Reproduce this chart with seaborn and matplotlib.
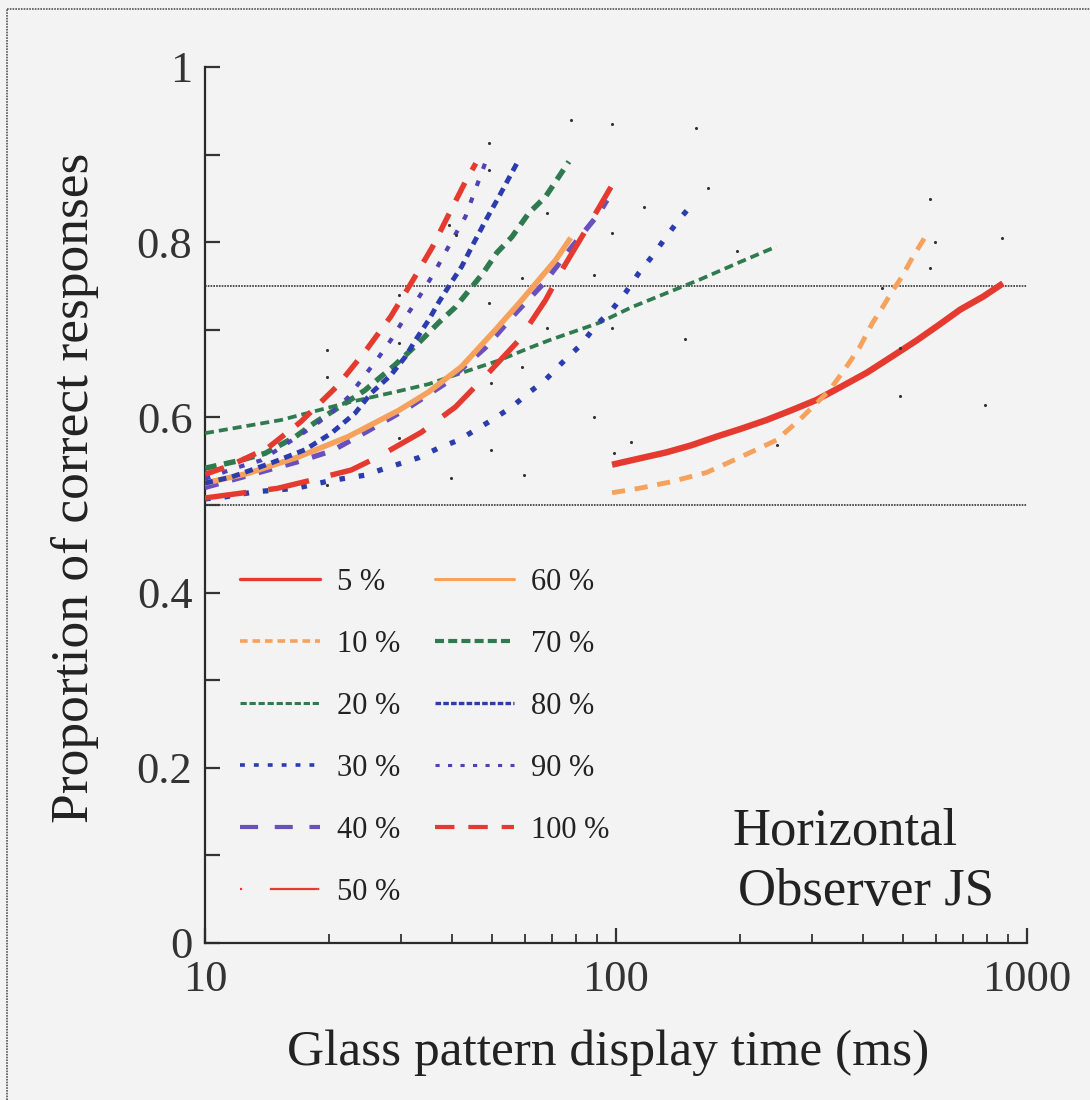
import numpy as np
import pandas as pd
import matplotlib
matplotlib.use("Agg")
import matplotlib.pyplot as plt
from matplotlib.lines import Line2D
from matplotlib.ticker import FixedLocator, FuncFormatter, NullFormatter, LogLocator
import seaborn as sns

# ---------------- data ----------------
coherence_labels = ["5 %", "10 %", "20 %", "30 %", "40 %", "50 %",
                    "60 %", "70 %", "80 %", "90 %", "100 %"]

t_5 = [97.8, 113.7, 132.4, 152.1, 175.5, 201.4, 232.4, 266.7, 307.6, 353, 407.5,
       467.5, 539.5, 608, 687.5, 783, 874]
p_5 = [0.546, 0.553, 0.560, 0.568, 0.578, 0.587, 0.597, 0.608, 0.620, 0.635, 0.651,
       0.669, 0.688, 0.705, 0.723, 0.738, 0.753]

t_10 = [97.8, 113.7, 134.6, 165.9, 199.5, 245.5, 279.3, 330.9, 363.9, 391.5,
        421, 445.6, 471.4, 495.5, 527, 563.6]
p_10 = [0.514, 0.519, 0.526, 0.537, 0.554, 0.574, 0.597, 0.631, 0.658, 0.680,
        0.708, 0.726, 0.745, 0.760, 0.783, 0.805]

t_20 = [10, 15.3, 22.3, 29.6, 35, 39.2, 51.9, 61.3, 68.7, 91, 109.4, 159.3, 199.5, 245.5]
p_20 = [0.582, 0.597, 0.617, 0.630, 0.638, 0.646, 0.665, 0.679, 0.688, 0.708, 0.726,
        0.757, 0.777, 0.795]

t_30 = [10, 11.1, 13.2, 16.6, 20.3, 24.5, 27.5, 33.1, 37, 41.4, 45.6, 49.9, 55.8,
        61.3, 67.4, 73.8, 82.2, 89.4, 97.8, 105.7, 113.7, 122.5, 132.4, 142.5, 155]
p_30 = [0.507, 0.509, 0.515, 0.519, 0.528, 0.534, 0.542, 0.554, 0.565, 0.574, 0.586,
        0.597, 0.612, 0.628, 0.643, 0.662, 0.683, 0.705, 0.723, 0.743, 0.765, 0.784,
        0.806, 0.826, 0.846]

t_40 = [10, 17, 20.4, 25, 31, 38.5, 48.2, 57, 66.7, 78.2, 91, 95.1]
p_40 = [0.520, 0.550, 0.562, 0.585, 0.610, 0.639, 0.680, 0.719, 0.753, 0.795, 0.833, 0.848]

t_50 = [10, 12, 15, 18, 22.7, 26.4, 33.6, 40.7, 49, 58, 67.4, 73.8, 84.5, 97.2]
p_50 = [0.508, 0.513, 0.519, 0.528, 0.540, 0.555, 0.583, 0.612, 0.651, 0.688,
        0.734, 0.768, 0.814, 0.863]

t_60 = [10, 12.7, 16.9, 22.3, 29.6, 35, 42.1, 50.9, 59, 64.9, 71.4, 77.6]
p_60 = [0.525, 0.536, 0.555, 0.578, 0.608, 0.629, 0.658, 0.700, 0.734, 0.757, 0.780, 0.805]

t_70 = [10, 12.2, 14, 16.6, 18.5, 21.9, 24.5, 29, 33.1, 37, 40.7, 44.6, 47.7, 51.3,
        55.8, 61.3, 67.4, 76.8]
p_70 = [0.542, 0.551, 0.559, 0.578, 0.594, 0.616, 0.631, 0.660, 0.685, 0.708, 0.726,
        0.749, 0.766, 0.788, 0.806, 0.833, 0.852, 0.892]

t_80 = [10, 11.6, 14.5, 17.5, 20.3, 23.2, 25.4, 28.3, 30.7, 32.5, 35, 37, 39.6, 42.1,
        44.6, 48.2, 51.9, 58]
p_80 = [0.525, 0.532, 0.548, 0.563, 0.582, 0.605, 0.628, 0.648, 0.669, 0.688, 0.711,
        0.731, 0.753, 0.772, 0.795, 0.825, 0.852, 0.894]

t_90 = [10, 12, 13.7, 18.1, 20.3, 22.3, 24.3, 26.4, 28.3, 30.1, 32.5, 34.4, 36.4,
        38.5, 43, 48.2]
p_90 = [0.530, 0.543, 0.551, 0.588, 0.605, 0.623, 0.646, 0.668, 0.688, 0.708, 0.731,
        0.749, 0.768, 0.789, 0.829, 0.892]

t_100 = [10, 11.5, 14.2, 17.1, 20.9, 24.5, 28.3, 31.9, 35.8, 40, 43, 45.6]
p_100 = [0.535, 0.545, 0.565, 0.595, 0.635, 0.675, 0.715, 0.755, 0.795, 0.840, 0.869, 0.890]

# observed data points (tiny dots)
obs_t = [77.6, 97.8, 49.0, 49.0, 67.8, 97.8, 117, 40.7, 39.2, 88.4, 59.1, 49.0, 67.8,
         97.8, 29.6, 29.6, 19.8, 19.8, 59.1, 49.6, 88.4, 29.6, 49.6, 108.7, 99, 39.6,
         59.6, 19.8, 156.6, 597, 790, 580, 869, 580, 443, 490, 490, 247, 147, 167, 197]
obs_p = [0.939, 0.935, 0.913, 0.882, 0.833, 0.810, 0.840, 0.808, 0.820, 0.763, 0.759,
         0.731, 0.702, 0.702, 0.740, 0.685, 0.677, 0.646, 0.658, 0.639, 0.600, 0.576,
         0.563, 0.572, 0.559, 0.531, 0.534, 0.523, 0.930, 0.800, 0.614, 0.849, 0.805,
         0.771, 0.748, 0.679, 0.624, 0.568, 0.689, 0.862, 0.790]

series_t = [t_5, t_10, t_20, t_30, t_40, t_50, t_60, t_70, t_80, t_90, t_100]
series_p = [p_5, p_10, p_20, p_30, p_40, p_50, p_60, p_70, p_80, p_90, p_100]

# ---------------- styles ----------------
RED, ORANGE, GREEN, BLUE, PURPLE, VIOLET = "#e53a2f", "#f6a25c", "#2f7b4f", "#2b3cae", "#6a50bf", "#4d43b6"
colors = [RED, ORANGE, GREEN, BLUE, PURPLE, RED, ORANGE, GREEN, BLUE, VIOLET, RED]
widths = [4.6, 3.5, 2.7, 3.8, 3.8, 3.9, 4.0, 3.9, 3.5, 3.0, 3.9]
dashes = [None, (9.5, 7.0), (6.5, 3.6), (4.0, 10.0), (10, 10), (30, 16),
          None, (8.5, 5.5), (5.8, 4.2), (4.0, 9.0), (14.5, 10.5)]
leg_widths = [2.4, 2.6, 2.2, 2.6, 3.0, 1.6, 2.2, 3.0, 2.4, 2.2, 3.0]
leg_dashes = [None, (5.5, 3.5), (4.5, 2.0), (3.5, 6.5), (13, 12), (1.5, 20, 34, 0.1),
              None, (6.5, 3.0), (4.0, 1.6), (3.0, 6.0), (14, 10)]

sns.set_style("ticks")
plt.rcParams["font.family"] = ["Liberation Serif", "DejaVu Serif"]
plt.rcParams["lines.scale_dashes"] = False
plt.rcParams["text.color"] = "#222222"
plt.rcParams["axes.labelcolor"] = "#222222"
plt.rcParams["xtick.color"] = "#333333"
plt.rcParams["ytick.color"] = "#333333"

BG = "#f4f3f3"
fig = plt.figure(figsize=(10.9, 11.0), dpi=100, facecolor=BG)
ax = fig.add_axes([205 / 1090, 1 - 943 / 1100, 822 / 1090, 876 / 1100])
ax.set_facecolor("none")

ax.set_xscale("log")
ax.set_xlim(10, 1000)
ax.set_ylim(0, 1)

# reference lines
ax.axhline(0.5, color="#444444", lw=1.3, ls=(0, (1.2, 0.8)), zorder=1)
ax.axhline(0.75, color="#444444", lw=1.3, ls=(0, (1.2, 0.8)), zorder=1)

# curves
for lab, t, p, c, w, d in zip(coherence_labels, series_t, series_p, colors, widths, dashes):
    df = pd.DataFrame({"time": t, "p": p})
    ls = "-" if d is None else (0, d)
    sns.lineplot(data=df, x="time", y="p", ax=ax, color=c, lw=w, linestyle=ls,
                 sort=False, estimator=None, legend=False, solid_capstyle="butt",
                 dash_capstyle="butt", solid_joinstyle="round", zorder=3)

# observed dots
sns.scatterplot(x=obs_t, y=obs_p, ax=ax, s=5, color="#333333", linewidth=0, zorder=4,
                legend=False)

# axes styling
for side in ["top", "right"]:
    ax.spines[side].set_visible(False)
for side in ["left", "bottom"]:
    ax.spines[side].set_linewidth(1.6)
    ax.spines[side].set_color("#2a2a2a")

ax.yaxis.set_major_locator(FixedLocator([0, 0.2, 0.4, 0.6, 0.8, 1.0]))
ax.yaxis.set_minor_locator(FixedLocator([0.1, 0.3, 0.5, 0.7, 0.9]))
ax.yaxis.set_major_formatter(FuncFormatter(lambda v, _: "0" if v == 0 else ("1" if v == 1 else f"{v:.1f}")))
ax.xaxis.set_major_locator(FixedLocator([10, 100, 1000]))
ax.xaxis.set_minor_locator(LogLocator(base=10, subs=np.arange(2, 10)))
ax.xaxis.set_major_formatter(FuncFormatter(lambda v, _: f"{int(round(v))}"))
ax.xaxis.set_minor_formatter(NullFormatter())

ax.tick_params(axis="y", which="both", direction="in", length=11, width=1.6, labelsize=32, pad=9)
ax.tick_params(axis="x", which="major", direction="in", length=11, width=1.6, labelsize=32, pad=12)
ax.tick_params(axis="x", which="minor", direction="in", length=6.5, width=1.3)

ax.set_xlabel("Glass pattern display time (ms)", fontsize=37, va="center")
ax.xaxis.set_label_coords(0.49, -0.125)
ax.set_ylabel("Proportion of correct responses", fontsize=38.5, va="center")
ax.yaxis.set_label_coords(-0.158, 0.52)

# annotation
ax.text(0.642, 0.112, "Horizontal", transform=ax.transAxes, fontsize=38,
        ha="left", va="baseline")
ax.text(0.648, 0.043, "Observer JS", transform=ax.transAxes, fontsize=38,
        ha="left", va="baseline")

# legend
handles = []
for lab, c, w, d in zip(coherence_labels, colors, leg_widths, leg_dashes):
    ls = "-" if d is None else (0, d)
    handles.append(Line2D([], [], color=c, lw=w, linestyle=ls, dash_capstyle="butt"))
leg = ax.legend(handles, coherence_labels, ncol=2, loc="upper left",
                bbox_to_anchor=(0.043, 0.428), frameon=False, fontsize=22,
                handlelength=2.6, handletextpad=0.55, columnspacing=1.15,
                labelspacing=1.08, borderpad=0, borderaxespad=0)

# figure frame (top and left visible)
fig.add_artist(Line2D([7 / 1090, 7 / 1090], [0, 1 - 9 / 1100], transform=fig.transFigure,
                      color="#555555", lw=1.2, ls=(0, (1.2, 0.8))))
fig.add_artist(Line2D([7 / 1090, 1], [1 - 9 / 1100, 1 - 9 / 1100], transform=fig.transFigure,
                      color="#555555", lw=1.2, ls=(0, (1.2, 0.8))))

fig.savefig("out.png", dpi=100, facecolor=BG)
